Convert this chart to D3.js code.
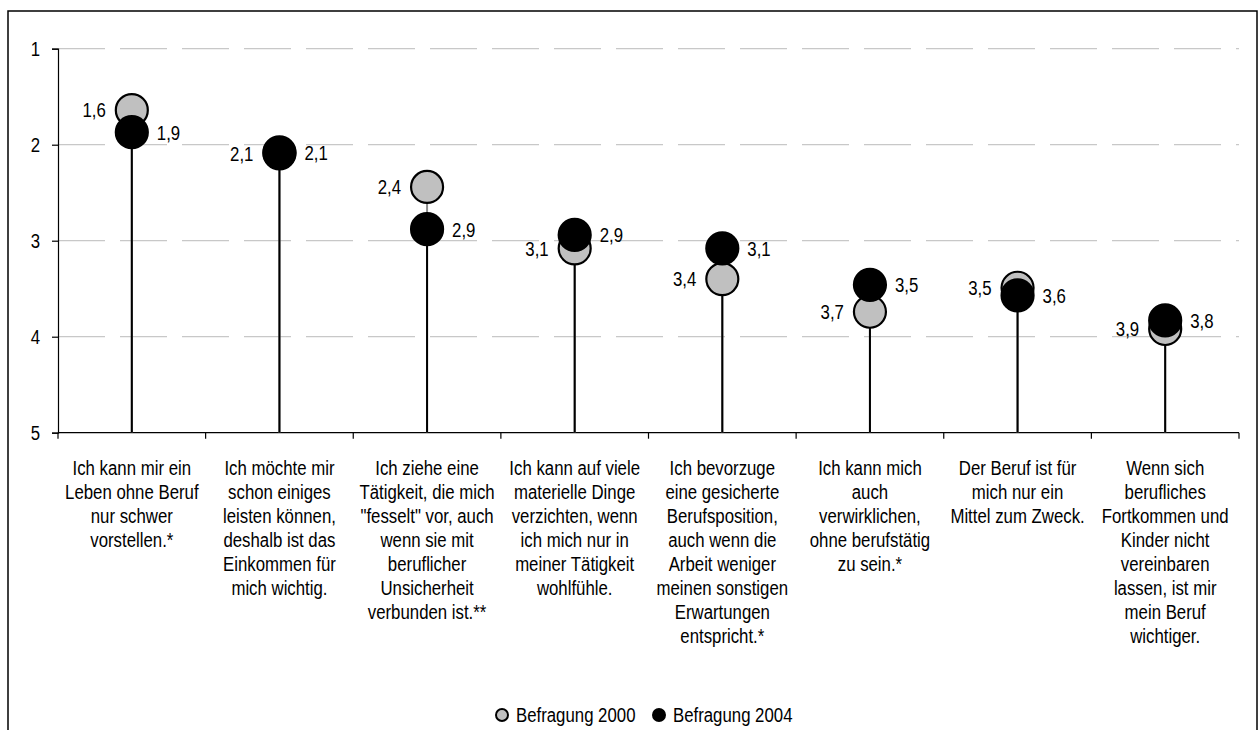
<!DOCTYPE html>
<html><head><meta charset="utf-8">
<script src="https://cdn.jsdelivr.net/npm/d3@7"></script>
<style>
body{margin:0;background:#fff;}
svg{display:block;font-family:"Liberation Sans Narrow","Arial Narrow","Liberation Sans",Arial,sans-serif;}
</style></head>
<body><svg id="c" width="1260" height="730"></svg>
<script>
const categories = [
  "Ich kann mir ein\nLeben ohne Beruf\nnur schwer\nvorstellen.*",
  "Ich möchte mir\nschon einiges\nleisten können,\ndeshalb ist das\nEinkommen für\nmich wichtig.",
  "Ich ziehe eine\nTätigkeit, die mich\n\"fesselt\" vor, auch\nwenn sie mit\nberuflicher\nUnsicherheit\nverbunden ist.**",
  "Ich kann auf viele\nmaterielle Dinge\nverzichten, wenn\nich mich nur in\nmeiner Tätigkeit\nwohlfühle.",
  "Ich bevorzuge\neine gesicherte\nBerufsposition,\nauch wenn die\nArbeit weniger\nmeinen sonstigen\nErwartungen\nentspricht.*",
  "Ich kann mich\nauch\nverwirklichen,\nohne berufstätig\nzu sein.*",
  "Der Beruf ist für\nmich nur ein\nMittel zum Zweck.",
  "Wenn sich\nberufliches\nFortkommen und\nKinder nicht\nvereinbaren\nlassen, ist mir\nmein Beruf\nwichtiger."
];
const values2000 = [1.64, 2.09, 2.44, 3.08, 3.40, 3.74, 3.49, 3.92];
const values2004 = [1.87, 2.08, 2.88, 2.94, 3.08, 3.46, 3.57, 3.83];
const yTicks = [1, 2, 3, 4, 5];
const seriesNames = ["Befragung 2000", "Befragung 2004"];

const svg = d3.select("#c");
const pL = 58, pR = 1239, pT = 48.7, pB = 432.7;
const FS = 21, SX = 0.8;
const x = d3.scaleBand().domain(d3.range(categories.length)).range([pL, pR]);
const y = d3.scaleLinear().domain([1, 5]).range([pT, pB]);
const fmt = v => d3.format(".1f")(v).replace(".", ",");
const narrow = (px, py) => `translate(${px},${py}) scale(${SX},1)`;

// frame
svg.append("rect").attr("x", 8).attr("y", 11).attr("width", 1249).attr("height", 740)
  .attr("fill", "none").attr("stroke", "#000").attr("stroke-width", 1.5);

// grid
svg.append("g").selectAll("line").data(yTicks.slice(0, -1)).join("line")
  .attr("x1", pL).attr("x2", pR).attr("y1", d => y(d)).attr("y2", d => y(d))
  .attr("stroke", "#c8c8c8").attr("stroke-width", 1.2).attr("stroke-dasharray", "47,15");

// y axis
const yAxis = svg.append("g").attr("transform", `translate(${pL},0)`)
  .call(d3.axisLeft(y).tickValues(yTicks).tickSize(6).tickPadding(12).tickFormat(d3.format("d")));
yAxis.attr("font-family", null).attr("font-size", null);
yAxis.select(".domain").attr("stroke", "#000").attr("stroke-width", 1.2);
yAxis.selectAll(".tick line").attr("stroke", "#000").attr("stroke-width", 1.2);
yAxis.selectAll(".tick text").each(function () {
  const t = d3.select(this);
  const xx = +t.attr("x");
  t.attr("x", 0).attr("transform", narrow(xx, 0)).attr("font-size", FS).attr("fill", "#000");
});

// x axis
const xAxisG = svg.append("g").attr("transform", `translate(0,${pB})`);
xAxisG.append("line").attr("x1", pL).attr("x2", pR).attr("stroke", "#000").attr("stroke-width", 1.2);
xAxisG.selectAll("line.tk").data(d3.range(categories.length + 1)).join("line").attr("class", "tk")
  .attr("x1", i => pL + i * x.step()).attr("x2", i => pL + i * x.step())
  .attr("y1", 0).attr("y2", 6).attr("stroke", "#000").attr("stroke-width", 1.2);

// category labels
const cx = i => x(i) + x.bandwidth() / 2;
const lab = svg.append("g").attr("font-size", FS).attr("fill", "#000").attr("text-anchor", "middle");
categories.forEach((c, i) => {
  const t = lab.append("text").attr("transform", narrow(cx(i), 475));
  c.split("\n").forEach((line, k) => {
    t.append("tspan").attr("x", 0).attr("y", k * 24).text(line);
  });
});

// drop lines
const idx = d3.range(categories.length);
svg.append("g").selectAll("line").data(idx).join("line")
  .attr("x1", cx).attr("x2", cx).attr("y1", pB).attr("y2", i => y(values2000[i]))
  .attr("stroke", "#8c8c8c").attr("stroke-width", 2);
svg.append("g").selectAll("line").data(idx).join("line")
  .attr("x1", cx).attr("x2", cx).attr("y1", pB).attr("y2", i => y(values2004[i]))
  .attr("stroke", "#000").attr("stroke-width", 2);

// dots
const r = 16;
svg.append("g").selectAll("circle").data(idx).join("circle")
  .attr("cx", cx).attr("cy", i => y(values2000[i])).attr("r", r)
  .attr("fill", "#c0c0c0").attr("stroke", "#000").attr("stroke-width", 2.2);
svg.append("g").selectAll("circle").data(idx).join("circle")
  .attr("cx", cx).attr("cy", i => y(values2004[i])).attr("r", r)
  .attr("fill", "#000").attr("stroke", "#000").attr("stroke-width", 2.2);

// value labels
svg.append("g").attr("font-size", FS).attr("text-anchor", "end").selectAll("text").data(idx).join("text")
  .attr("transform", i => narrow(cx(i) - 26, y(values2000[i]))).attr("dy", "0.35em")
  .text(i => fmt(values2000[i]));
svg.append("g").attr("font-size", FS).attr("text-anchor", "start").selectAll("text").data(idx).join("text")
  .attr("transform", i => narrow(cx(i) + 25, y(values2004[i]))).attr("dy", "0.35em")
  .text(i => fmt(values2004[i]));

// legend
const leg = svg.append("g").attr("font-size", FS);
const legX = [502, 659];
const legFill = ["#c0c0c0", "#000"];
seriesNames.forEach((n, k) => {
  leg.append("circle").attr("cx", legX[k]).attr("cy", 715).attr("r", 6)
    .attr("fill", legFill[k]).attr("stroke", "#000").attr("stroke-width", 2);
  leg.append("text").attr("transform", narrow(legX[k] + 14, 715)).attr("dy", "0.35em").text(n);
});
</script></body></html>
